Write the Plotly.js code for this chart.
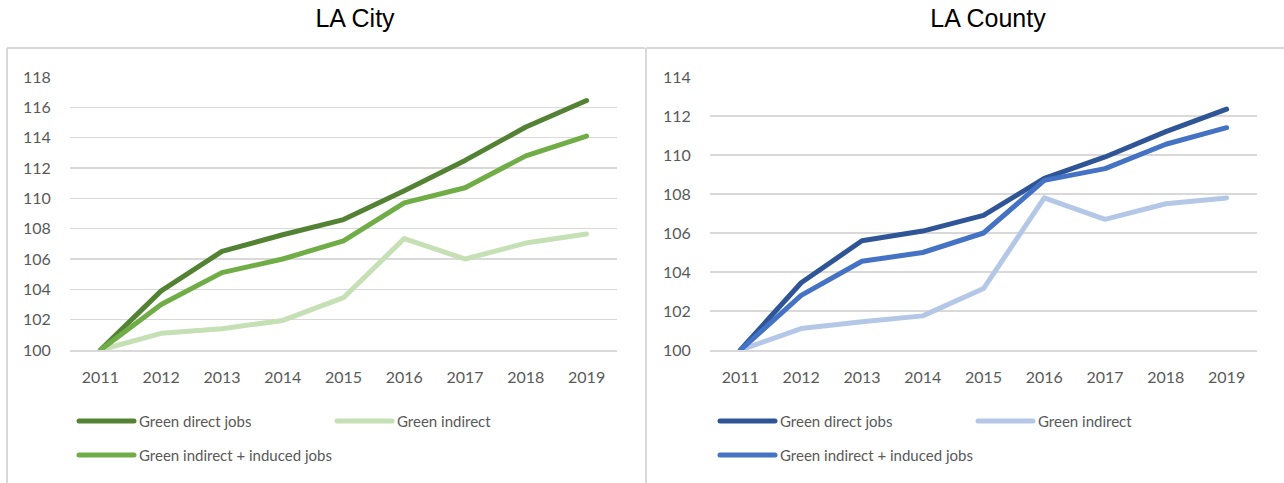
<!DOCTYPE html>
<html><head><meta charset="utf-8">
<script src="https://cdn.plot.ly/plotly-3.0.1.min.js"></script>
<style>
html,body{margin:0;padding:0;background:#fff;}
#wrap{position:relative;width:1284px;height:483px;overflow:hidden;background:#fff;}
#city{position:absolute;left:0;top:0;width:645px;height:483px;}
#county{position:absolute;left:645px;top:0;width:639px;height:483px;}
.js-line{stroke-linecap:round;stroke-linejoin:round;}
</style></head><body>
<div id="wrap"><div id="city"></div><div id="county"></div></div>
<script>
// ---- data ----
const years = ['2011','2012','2013','2014','2015','2016','2017','2018','2019'];
const seriesNames = ['Green direct jobs','Green indirect','Green indirect + induced jobs'];

const cityDirect   = [100, 103.9, 106.5, 107.6, 108.6, 110.5, 112.5, 114.7, 116.45];
const cityIndirect = [100, 101.1, 101.4, 101.95, 103.45, 107.35, 106.0, 107.05, 107.65];
const cityInduced  = [100, 103.0, 105.1, 106.0, 107.2, 109.7, 110.7, 112.8, 114.1];

const countyDirect   = [100, 103.45, 105.6, 106.1, 106.9, 108.8, 109.9, 111.2, 112.35];
const countyIndirect = [100, 101.1, 101.45, 101.75, 103.15, 107.8, 106.7, 107.5, 107.8];
const countyInduced  = [100, 102.8, 104.55, 105.0, 106.0, 108.7, 109.3, 110.55, 111.4];

const cityColors   = ['#548235', '#C5E0B4', '#70AD47'];
const countyColors = ['#2F5597', '#B4C7E7', '#4472C4'];

// ---- helpers ----
const H = 483, T = 76.7, B = 132.3;
const tickFont = {family: 'Lato, "Open Sans", sans-serif', size: 16, color: '#595959'};
const legFont  = {family: 'Lato, "Open Sans", sans-serif', size: 15, color: '#595959'};

function traces(vals, colors) {
  return vals.map((v, i) => ({
    type: 'scatter', mode: 'lines', x: years, y: v, name: seriesNames[i],
    line: {color: colors[i], width: 5},
    legend: i === 2 ? 'legend2' : 'legend',
    hoverinfo: 'x+y+name'
  }));
}

function layout(o) {
  const w = o.W - o.l - o.r, h = H - T - B, bottom = H - B;
  const px = x => (x - o.l) / w, py = y => (bottom - y) / h;
  const grey = {color: '#d9d9d9', width: 2};
  const shapes = [
    {type: 'line', xref: 'paper', yref: 'paper', x0: px(o.boxL), x1: px(o.boxL), y0: py(47.7), y1: py(520), line: grey},
    {type: 'line', xref: 'paper', yref: 'paper', x0: px(o.boxL), x1: px(o.W + 5), y0: py(47.7), y1: py(47.7), line: grey}
  ];
  const legBase = {orientation: 'h', xanchor: 'left', yanchor: 'middle', font: legFont,
    bgcolor: 'rgba(0,0,0,0)', itemwidth: 55, entrywidth: 188, entrywidthmode: 'pixels', borderwidth: 0};
  return {
    width: o.W, height: H,
    margin: {l: o.l, r: o.r, t: T, b: B, pad: 0},
    paper_bgcolor: 'rgba(0,0,0,0)', plot_bgcolor: 'rgba(0,0,0,0)',
    title: {text: o.title, font: {family: '"Liberation Sans", Arial, sans-serif', size: 25, color: '#000'},
      xref: 'container', yref: 'container', x: o.titleX / o.W, xanchor: 'center', y: 1 - 18.5 / H, yanchor: 'middle'},
    xaxis: {type: 'category', range: [-0.5, 8.5], showgrid: false, zeroline: false,
      showline: true, linecolor: '#d9d9d9', linewidth: 1.5,
      ticks: 'outside', ticklen: 12, tickcolor: 'rgba(0,0,0,0)', tickfont: tickFont, fixedrange: true},
    yaxis: {range: o.yr, dtick: 2, tick0: 100, showgrid: true, gridcolor: '#d9d9d9', gridwidth: 1.5,
      zeroline: false, showline: false, ticks: 'outside', ticklen: 15, tickcolor: 'rgba(0,0,0,0)',
      tickfont: tickFont, fixedrange: true},
    showlegend: true,
    legend: Object.assign({}, legBase, {x: px(o.legX), y: py(421)}),
    legend2: Object.assign({}, legBase, {x: px(o.legX), y: py(455)}),
    shapes: shapes
  };
}

function fixLegend(gd) {
  gd.querySelectorAll('.legendlines path').forEach(p => {
    const d = p.getAttribute('d') || '';
    const m = d.match(/^M(-?[\d.]+),(-?[\d.]+)h30$/);
    if (m) {
      const s = parseFloat(m[1]) + 15 - 27.5;
      p.setAttribute('d', 'M' + s + ',' + m[2] + 'h55');
    }
  });
}

const cfg = {displayModeBar: false, staticPlot: true};

const cityDiv = document.getElementById('city');
const countyDiv = document.getElementById('county');

Plotly.newPlot(cityDiv, traces([cityDirect, cityIndirect, cityInduced], cityColors),
  layout({W: 645, l: 70, r: 28, yr: [100, 118], title: 'LA City', titleX: 355, boxL: 7, legX: 74}), cfg)
  .then(gd => { fixLegend(gd); gd.on && gd.on('plotly_afterplot', () => fixLegend(gd)); });

Plotly.newPlot(countyDiv, traces([countyDirect, countyIndirect, countyInduced], countyColors),
  layout({W: 639, l: 65, r: 27, yr: [100, 114], title: 'LA County', titleX: 343, boxL: 1, legX: 70}), cfg)
  .then(gd => { fixLegend(gd); gd.on && gd.on('plotly_afterplot', () => fixLegend(gd)); });
</script>
</body></html>
